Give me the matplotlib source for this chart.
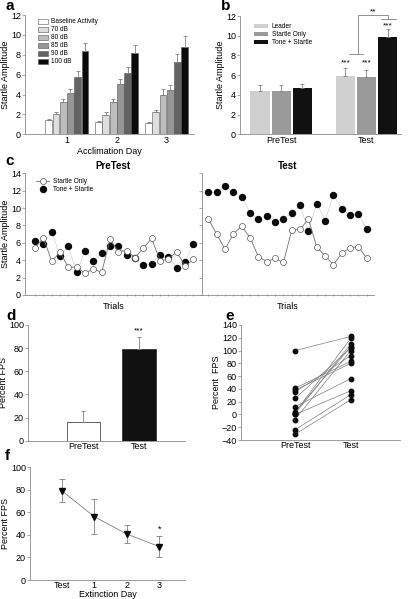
import matplotlib
matplotlib.use('Agg')
import matplotlib.pyplot as plt
from matplotlib.lines import Line2D

plt.rcParams['font.family'] = ['Liberation Sans', 'DejaVu Sans']

W, H = 408, 599

# a: acclimation
days = ['1', '2', '3']
levels = ['Baseline Activity', '70 dB', '80 dB', '85 dB', '90 dB', '100 dB']
acc_mean = [[1.44, 1.25, 1.17], [2.0, 1.95, 2.2], [3.2, 3.25, 4.0],
            [4.2, 5.1, 4.5], [5.8, 6.2, 7.25], [8.4, 8.2, 8.75]]
acc_err = [[0.05, 0.05, 0.05], [0.25, 0.25, 0.25], [0.4, 0.35, 0.6],
           [0.4, 0.45, 0.5], [0.6, 0.6, 0.85], [0.75, 0.75, 1.1]]
level_colors = ['white', '#dedede', '#bdbdbd', '#969696', '#636363', '#0a0a0a']

# b: groups
sessions = ['PreTest', 'Test']
groups_b = ['Leader', 'Startle Only', 'Tone + Startle']
grp_mean = [[4.4, 5.95], [4.4, 5.78], [4.7, 9.84]]
grp_err = [[0.6, 0.8], [0.6, 0.75], [0.45, 0.8]]
grp_colors = ['#d0d0d0', '#9a9a9a', '#111111']

# c: trials
trials = list(range(1, 21))
pre_startle = [5.4, 6.6, 3.9, 4.9, 3.2, 3.2, 2.5, 3.0, 2.6, 6.4,
               5.0, 5.1, 4.3, 5.4, 6.5, 3.95, 4.1, 5.0, 3.3, 4.1]
pre_tone = [6.2, 5.9, 7.3, 4.5, 5.6, 2.6, 5.1, 3.95, 4.8, 5.6,
            5.6, 4.6, 4.2, 3.45, 3.6, 4.6, 4.4, 3.1, 3.8, 5.9]
test_startle = [8.75, 7.0, 5.25, 7.05, 7.9, 6.6, 4.4, 3.85, 4.2, 3.75,
                7.45, 7.55, 8.75, 5.5, 4.5, 3.5, 4.8, 5.45, 5.55, 4.2]
test_tone = [11.8, 11.8, 12.5, 11.9, 11.3, 9.4, 8.75, 9.1, 8.4, 8.8,
             9.4, 10.3, 7.4, 10.5, 8.55, 11.5, 9.9, 9.2, 9.3, 7.6]

# d: percent FPS
fps_mean = [15.8, 79.2]
fps_err = [10.2, 10.1]
fps_colors = ['white', '#111111']

# e: individual FPS
indiv_pre = [100, 41, 38, 35, 25, 12, 3, 1, 0, -8, -24, -31, 4]
indiv_test = [122, 83, 80, 92, 104, 56, 119, 110, 37, 100, 31, 23, 106]

# f: extinction
ext_days = ['Test', '1', '2', '3']
ext_mean = [79.3, 56.2, 40.8, 29.6]
ext_err = [10.0, 15.4, 7.7, 9.3]


def box(l, t, r, b):
    return [l / W, 1 - b / H, (r - l) / W, (b - t) / H]


def style(ax):
    for s in ['top', 'right']:
        ax.spines[s].set_visible(False)
    for s in ['left', 'bottom']:
        ax.spines[s].set_color('#8a8a8a')
        ax.spines[s].set_linewidth(0.6)
    ax.tick_params(labelsize=6.5, color='#8a8a8a', length=2, width=0.5, pad=1)


def ebar(ax, x, y, e):
    ax.errorbar(x, y, yerr=[[0] * len(e), e], fmt='none', ecolor='#808080',
                elinewidth=0.6, capsize=1.5, capthick=0.6)


fig = plt.figure(figsize=(W / 100, H / 100), dpi=100)

# ---- a
ax = fig.add_axes(box(25, 15, 194, 134.3))
bw = 0.145
for i, lev in enumerate(levels):
    xs = [d + (i - 2.5) * bw for d in range(1, 4)]
    ax.bar(xs, acc_mean[i], bw * 0.95, color=level_colors[i], edgecolor='#555555',
           linewidth=0.4, label=lev)
    ebar(ax, xs, acc_mean[i], acc_err[i])
ax.set_xlim(0.16, 3.55)
ax.set_ylim(0, 12)
ax.set_xticks([1, 2, 3])
ax.set_xticklabels(days)
ax.set_xlabel('Acclimation Day', fontsize=6.5, labelpad=1.5)
ax.set_ylabel('Startle Amplitude', fontsize=6.5, labelpad=0.5)
style(ax)
ax.tick_params(axis='x', length=0)
ax.legend(loc='upper left', bbox_to_anchor=(0.04, 1.02), frameon=False, fontsize=4.7,
          handlelength=1.6, handleheight=0.8, labelspacing=0.15, handletextpad=0.5)

# ---- b
ax = fig.add_axes(box(240, 16, 401, 134.3))
off = 0.248
for i, g in enumerate(groups_b):
    xs = [s + (i - 1) * off for s in (1, 2)]
    ax.bar(xs, grp_mean[i], 0.228, color=grp_colors[i], label=g)
    ebar(ax, xs, grp_mean[i], grp_err[i])
ax.set_xlim(0.516, 2.405)
ax.set_ylim(0, 12)
ax.set_xticks([1, 2])
ax.set_xticklabels(sessions)
ax.set_ylabel('Startle Amplitude', fontsize=6.5, labelpad=0.5)
style(ax)
ax.tick_params(axis='x', length=0)
ax.legend(loc='upper left', bbox_to_anchor=(0.05, 0.99), frameon=False, fontsize=4.7,
          handlelength=2.2, handleheight=0.5, labelspacing=0.15, handletextpad=0.5)
for x, y in [(2 - off, 7.2), (2, 7.2), (2 + off, 11.0)]:
    ax.text(x, y, '***', ha='center', va='center', fontsize=6)
bk = dict(color='#808080', lw=0.6, clip_on=False)
ax.plot([1.80, 1.965], [8.1, 8.1], **bk)
ax.plot([1.897, 1.897, 2.255, 2.255], [8.1, 12.1, 12.1, 11.66], **bk)
ax.plot([2.17, 2.345], [11.66, 11.66], **bk)
ax.text(2.08, 12.45, '**', ha='center', va='center', fontsize=6)

# ---- c
axp = fig.add_axes(box(25, 173.3, 201.7, 295))
axt = fig.add_axes(box(201.7, 173.3, 373.5, 295))
for a_, s_, t_, lim, ttl in [(axp, pre_startle, pre_tone, (-0.2, 21), 'PreTest'),
                             (axt, test_startle, test_tone, (0.2, 20.8), 'Test')]:
    a_.plot(trials, t_, '-', color='#cccccc', lw=0.4)
    a_.plot(trials, t_, 'o', color='#0a0a0a', ms=4.3, zorder=3)
    a_.plot(trials, s_, '-o', color='#707070', lw=0.6, mfc='white', mec='#555555',
            mew=0.5, ms=4.3, zorder=4)
    a_.set_xlim(*lim)
    a_.set_ylim(0, 14)
    a_.set_xticks(trials)
    a_.set_xticklabels([])
    a_.set_yticks(range(0, 15, 2))
    style(a_)
    a_.tick_params(axis='x', length=1.5, direction='inout')
    a_.set_title(ttl, fontsize=7, fontweight='bold', pad=3)
    a_.set_xlabel('Trials', fontsize=6.5, labelpad=3)
axt.set_yticklabels([])
axp.set_ylabel('Startle Amplitude', fontsize=6.5, labelpad=0.5)
hs = [Line2D([], [], color='#707070', lw=0.6, marker='o', mfc='white', mec='#555555', mew=0.5, ms=4.3),
      Line2D([], [], color='none', marker='o', mfc='#0a0a0a', mec='#0a0a0a', ms=4.3)]
axp.legend(hs, ['Startle Only', 'Tone + Startle'], loc='upper left', bbox_to_anchor=(0.03, 1.01),
           frameon=False, fontsize=4.7, handlelength=2.0, labelspacing=0.2, handletextpad=0.6)

# ---- d
ax = fig.add_axes(box(28, 325, 185, 440.7))
ax.bar([1, 2], fps_mean, 0.6, color=fps_colors, edgecolor='#222222', linewidth=0.5)
ebar(ax, [1, 2], fps_mean, fps_err)
ax.text(2, 95, '***', ha='center', va='center', fontsize=6)
ax.set_xlim(0, 2.83)
ax.set_ylim(0, 100)
ax.set_xticks([1, 2])
ax.set_xticklabels(sessions)
ax.set_ylabel('Percent FPS', fontsize=6.5, labelpad=0.5)
style(ax)
ax.tick_params(axis='x', length=0)

# ---- e
ax = fig.add_axes(box(241, 325, 400, 440))
for p, t in zip(indiv_pre, indiv_test):
    ax.plot([1, 2], [p, t], '-', color='#808080', lw=0.5)
    ax.plot([1, 2], [p, t], 'o', color='#0a0a0a', ms=3.2, zorder=3)
ax.set_xlim(0.03, 2.885)
ax.set_ylim(-40, 140)
ax.set_yticks(range(-40, 141, 20))
ax.set_xticks([1, 2])
ax.set_xticklabels(sessions)
ax.set_ylabel('Percent  FPS', fontsize=6.5, labelpad=0.5)
style(ax)
ax.tick_params(axis='x', length=0)

# ---- f
ax = fig.add_axes(box(30, 467.3, 185, 580))
xs = list(range(len(ext_days)))
ax.errorbar(xs, ext_mean, yerr=ext_err, fmt='none', ecolor='#808080', elinewidth=0.6,
            capsize=2, capthick=0.6)
ax.plot(xs, ext_mean, '-', color='#808080', lw=0.6)
ax.plot(xs, ext_mean, 'v', color='#0a0a0a', ms=5, zorder=3)
ax.text(3, 45, '*', ha='center', va='center', fontsize=6.5)
ax.set_xlim(-0.975, 3.79)
ax.set_ylim(0, 100)
ax.set_xticks(xs)
ax.set_xticklabels(ext_days)
ax.set_xlabel('Extinction Day', fontsize=6.5, labelpad=0)
ax.set_ylabel('Percent FPS', fontsize=6.5, labelpad=0.5)
style(ax)
ax.tick_params(axis='x', length=0)

for lab, x, y in [('a', 5, 6), ('b', 221, 6), ('c', 5, 161), ('d', 6, 316), ('e', 225, 316), ('f', 5, 456)]:
    fig.text(x / W, 1 - y / H, lab, fontsize=11, fontweight='bold', ha='left', va='center')

fig.savefig('out.png', dpi=100)
